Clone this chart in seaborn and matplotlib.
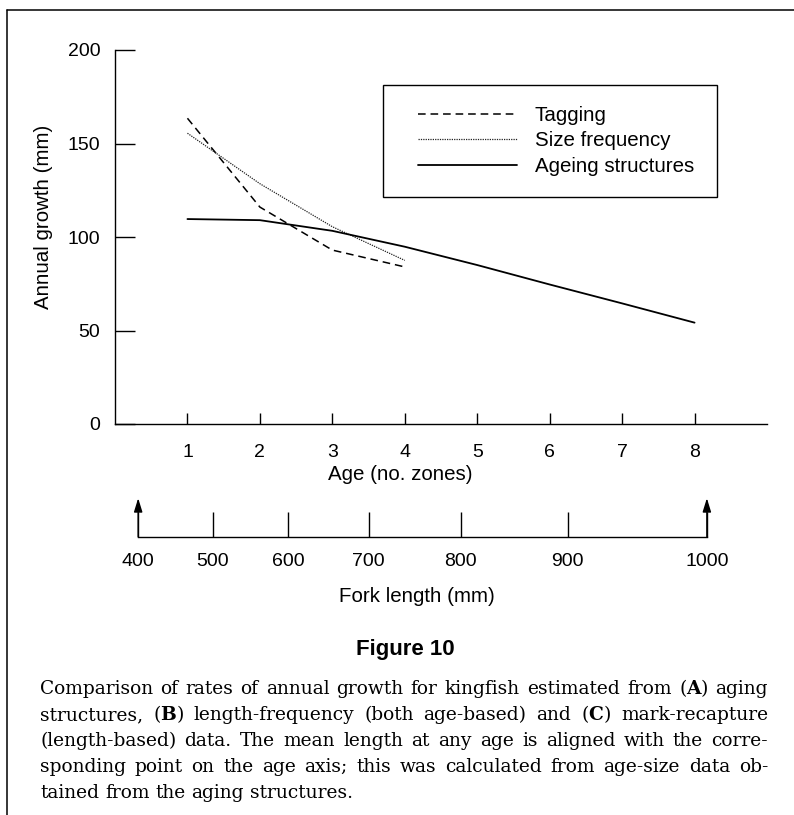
import matplotlib
matplotlib.use("Agg")
import matplotlib.pyplot as plt
from matplotlib import font_manager
from matplotlib.lines import Line2D
from matplotlib.patches import Rectangle
import numpy as np
import pandas as pd
import seaborn as sns

# ---- data -------------------------------------------------------------
age_tagging = [1, 2, 3, 4]
growth_tagging = [163.5, 116, 93, 84]

age_sizefreq = [1, 2, 3, 4]
growth_sizefreq = [155.5, 128.5, 105.5, 87.5]

age_ageing = [1, 2, 3, 4, 5, 6, 7, 8]
growth_ageing = [109.6, 109, 103.3, 94.8, 85, 74.6, 64.5, 54.2]

series_names = ["Tagging", "Size frequency", "Ageing structures"]

age_ticks = [1, 2, 3, 4, 5, 6, 7, 8]
growth_ticks = [0, 50, 100, 150, 200]

# mean fork length (mm) and the age at which it is reached
fork_length = [400, 500, 600, 700, 800, 900, 1000]
fork_length_age = [0.32, 1.35, 2.39, 3.50, 4.77, 6.25, 8.17]

caption_lines = [
    r"Comparison of rates of annual growth for kingfish estimated from ($\mathbf{A}$) aging",
    r"structures, ($\mathbf{B}$) length-frequency (both age-based) and ($\mathbf{C}$) mark-recapture",
    r"(length-based) data. The mean length at any age is aligned with the corre-",
    r"sponding point on the age axis; this was calculated from age-size data ob-",
    r"tained from the aging structures.",
]

# ---- style ------------------------------------------------------------
sns.set_theme(style="white")
plt.rcParams["font.family"] = ["Liberation Sans", "DejaVu Sans"]
plt.rcParams["mathtext.fontset"] = "dejavuserif"
plt.rcParams["axes.linewidth"] = 1.0

W, H = 794, 815
fig = plt.figure(figsize=(W / 100, H / 100), dpi=100)
fig.patch.set_facecolor("white")


def fx(px):
    return px / W


def fy(py):
    return 1 - py / H


# main axes: x 0..9 from px 115 to 767, y 0..200 from px 424 to 50
ax = fig.add_axes([fx(115), fy(424), fx(767) - fx(115), fy(50) - fy(424)])
ax.set_facecolor("white")

frame = pd.DataFrame({
    "age": age_tagging + age_sizefreq + age_ageing,
    "growth": growth_tagging + growth_sizefreq + growth_ageing,
    "method": [series_names[0]] * len(age_tagging)
    + [series_names[1]] * len(age_sizefreq)
    + [series_names[2]] * len(age_ageing),
})

line_kw = {
    series_names[0]: dict(linestyle=(0, (5.0, 3.2)), linewidth=1.1, color="black"),
    series_names[1]: dict(linestyle=(0, (1.0, 0.9)), linewidth=0.9, color="#222222"),
    series_names[2]: dict(linestyle="-", linewidth=1.3, color="black"),
}
for name in series_names:
    sub = frame[frame["method"] == name]
    sns.lineplot(data=sub, x="age", y="growth", ax=ax, label=name,
                 sort=False, estimator=None, **line_kw[name])

ax.set_xlim(0, 9)
ax.set_ylim(0, 200)
ax.set_xticks(age_ticks)
ax.set_xticklabels([str(a) for a in age_ticks])
ax.set_yticks(growth_ticks)
ax.set_yticklabels([str(g) for g in growth_ticks])
for side in ["top", "right"]:
    ax.spines[side].set_visible(False)
for side in ["left", "bottom"]:
    ax.spines[side].set_color("black")
    ax.spines[side].set_linewidth(1.0)

ax.tick_params(axis="x", bottom=True, direction="in", length=8, width=1.0,
               color="black", pad=14.5, labelsize=14, labelcolor="black")
ax.tick_params(axis="y", left=True, direction="in", length=14.5, width=1.0,
               color="black", pad=10.5, labelsize=14, labelcolor="black")
ax.grid(False)

ax.set_xlabel("Age (no. zones)", fontsize=14.8, color="black", va="center")
ax.xaxis.set_label_coords((400.5 - 115) / 652, (424 - 474) / 374)
ax.set_ylabel("Annual growth (mm)", fontsize=14.8, color="black", va="center")
ax.yaxis.set_label_coords((43 - 115) / 652, (424 - 217) / 374)

# legend with a plain rectangular box
leg = ax.legend(loc="upper left",
                bbox_to_anchor=((418 - 115) / 652, (424 - 106) / 374),
                frameon=False, borderaxespad=0, borderpad=0,
                handlelength=4.8, handletextpad=0.87, labelspacing=0.31,
                fontsize=14.8)
for t in leg.get_texts():
    t.set_color("black")
ax.add_patch(Rectangle(((383 - 115) / 652, (424 - 197) / 374),
                       (717 - 383) / 652, (197 - 85) / 374,
                       transform=ax.transAxes, fill=False, edgecolor="black",
                       linewidth=1.0, clip_on=False))

# ---- fork length axis -------------------------------------------------
ax2 = fig.add_axes([fx(115), fy(536.7), fx(767) - fx(115), 40 / H])
ax2.set_facecolor("none")
ax2.set_xlim(0, 9)
ax2.set_ylim(0, 40)
for side in ["top", "right", "left"]:
    ax2.spines[side].set_visible(False)
ax2.spines["bottom"].set_color("black")
ax2.spines["bottom"].set_linewidth(1.0)
ax2.spines["bottom"].set_bounds(fork_length_age[0], fork_length_age[-1])
ax2.set_yticks([])
ax2.set_xticks(fork_length_age)
ax2.set_xticklabels([str(v) for v in fork_length])
ax2.tick_params(axis="x", bottom=True, direction="in", length=18, width=1.0,
                color="black", pad=11.5, labelsize=14, labelcolor="black")
ax2.grid(False)
for xa in (fork_length_age[0], fork_length_age[-1]):
    ax2.annotate("", xy=(xa, 38.5), xytext=(xa, 0),
                 arrowprops=dict(arrowstyle="-|>,head_length=0.55,head_width=0.17",
                                 mutation_scale=15, lw=1.0, color="black",
                                 shrinkA=0, shrinkB=0))
ax2.set_xlabel("Fork length (mm)", fontsize=14.8, color="black", va="center")
ax2.xaxis.set_label_coords((417 - 115) / 652, (536.7 - 597) / 40)

# ---- figure title and caption -----------------------------------------
names = {f.name for f in font_manager.fontManager.ttflist}
narrow = "Liberation Sans Narrow" in names
fig.text(fx(405), fy(650), "Figure 10", ha="center", va="center",
         fontsize=18 if narrow else 16, fontweight="bold",
         family=["Liberation Sans Narrow" if narrow else "Liberation Sans"],
         color="black")

renderer = fig.canvas.get_renderer()
cap_family = ["DejaVu Serif"]
x_left, x_right = 40, 768
baselines = [694, 720, 746, 772, 798]


def word_width(word, size):
    t = fig.text(0, 0, word, fontsize=size, family=cap_family)
    w = t.get_window_extent(renderer).width
    t.remove()
    return w


# pick the caption size so the widest line nearly fills the text block
probe = 12.0
probe_space = word_width("a a", probe) - word_width("aa", probe)
natural = [sum(word_width(w, probe) for w in ln.split(" "))
           + probe_space * (len(ln.split(" ")) - 1) for ln in caption_lines]
cap_size = probe * (x_right - x_left) * 0.985 / max(natural)

space_w = word_width("a a", cap_size) - word_width("aa", cap_size)
for i, (line, base) in enumerate(zip(caption_lines, baselines)):
    words = line.split(" ")
    widths = [word_width(w, cap_size) for w in words]
    if i < len(caption_lines) - 1:
        gap = (x_right - x_left - sum(widths)) / (len(words) - 1)
    else:
        gap = space_w
    xpos = x_left
    for w, wd in zip(words, widths):
        fig.text(fx(xpos), fy(base), w, fontsize=cap_size, family=cap_family,
                 ha="left", va="baseline", color="black")
        xpos += wd + gap

# outer frame lines
fig.add_artist(Line2D([fx(7), fx(7)], [0, fy(10)], transform=fig.transFigure,
                      color="black", linewidth=1.1))
fig.add_artist(Line2D([fx(7), 1], [fy(10), fy(10)], transform=fig.transFigure,
                      color="black", linewidth=1.1))

fig.savefig("out.png", dpi=100, facecolor="white")
